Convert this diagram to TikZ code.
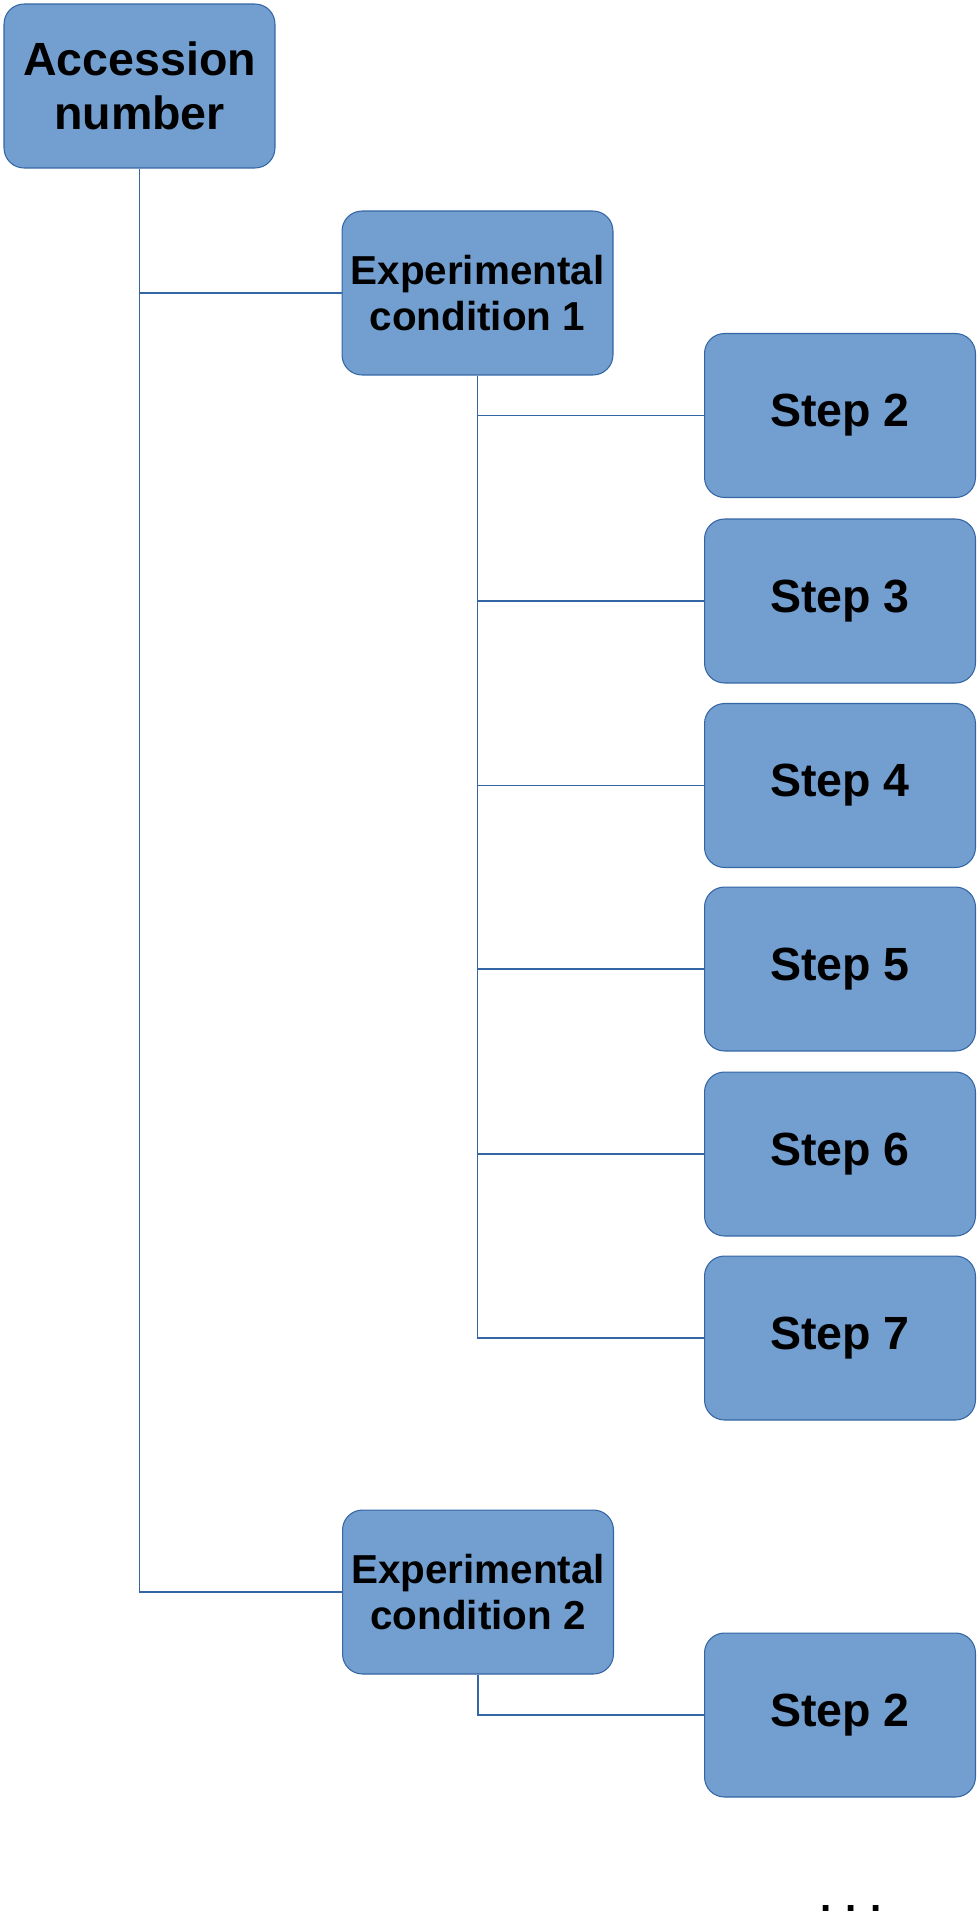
\documentclass[tikz,border=0pt]{standalone}
\usepackage{fontspec}
\setmainfont{Liberation Sans}
\definecolor{boxfill}{HTML}{729FCF}
\definecolor{boxline}{HTML}{3465A4}
\tikzset{
  block/.style={draw=boxline,fill=boxfill,line width=0.6pt,rounded corners=0.4cm,
    minimum width=5.42cm,minimum height=3.28cm,align=center,font=\bfseries},
  link/.style={draw=boxline,line width=0.6pt}
}
\begin{document}
\begin{tikzpicture}[x=0.02cm,y=-0.02cm]
			\useasboundingbox (0,0) rectangle (977,1920);
			\node[block,font=\fontsize{26.5}{31}\selectfont\bfseries] (acc) at (139.5,86) {Accession\\number};
			\node[block,font=\fontsize{23}{26}\selectfont\bfseries] (exp1) at (477.5,293) {Experimental\\condition 1};
			\node[block,font=\fontsize{23}{26}\selectfont\bfseries] (exp2) at (478,1592) {Experimental\\condition 2};
			\foreach \n/\y in {2/415.5,3/601,4/785.5,5/969,6/1154,7/1338}
				\node[block,font=\fontsize{26.5}{31}\selectfont\bfseries] (s\n) at (840,\y) {Step \n};
			\node[block,font=\fontsize{26.5}{31}\selectfont\bfseries] (t2) at (840,1715) {Step 2};
			\node[anchor=base,font=\fontsize{23}{28}\selectfont\bfseries,inner sep=0pt] (dots) at (851,1911) {.\,\,.\,\,.};
			% tree lines
			\draw[link] (acc.south) |- (exp2.west);
			\draw[link] (acc.south |- exp1.west) -- (exp1.west);
			\draw[link] (exp1.south) |- (s7.west);
			\foreach \n in {2,...,6}
				\draw[link] (exp1.south |- s\n.west) -- (s\n.west);
			\draw[link] (exp2.south) |- (t2.west);
		\end{tikzpicture}
\end{document}
